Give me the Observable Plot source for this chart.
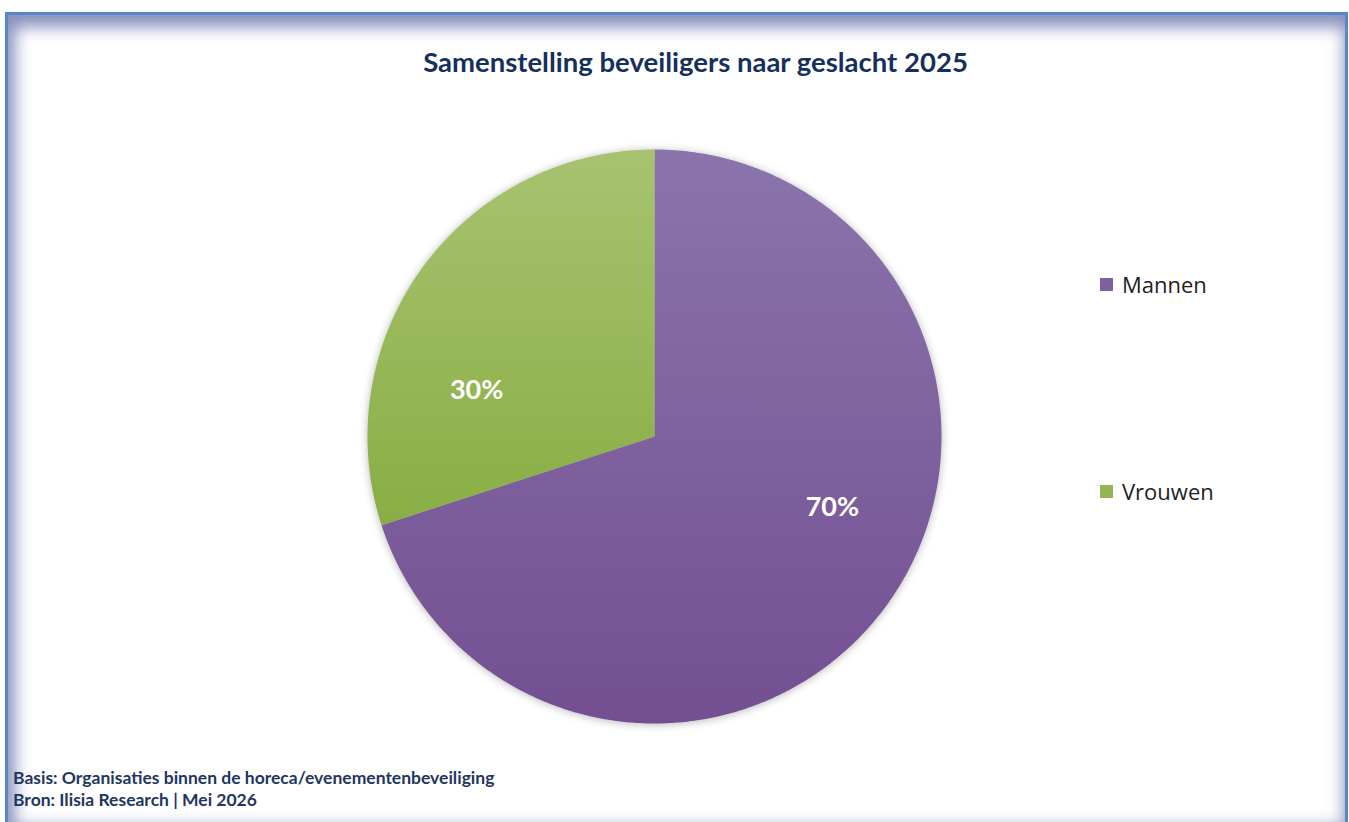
<!DOCTYPE html>
<html>
<head>
<meta charset="utf-8">
<script src="https://cdn.jsdelivr.net/npm/d3@7"></script>
<script src="https://cdn.jsdelivr.net/npm/@observablehq/plot@0.6"></script>
<style>
  html, body { margin: 0; padding: 0; background: #ffffff; width: 1349px; height: 822px; overflow: hidden; }
  #frame {
    position: absolute; left: 5px; top: 12px; width: 1337px; height: 808px;
    border: 3px solid #5a86c4;
    box-shadow: inset 3px 8px 16px 4px rgba(62, 76, 145, 0.62);
    background: #ffffff;
  }
  #title {
    position: absolute; left: 0; top: 42px; width: 1391px; height: 40px; line-height: 40px;
    text-align: center; font-family: Lato, "Open Sans", sans-serif; font-weight: 700;
    font-size: 27.5px; color: #172f5b;
  }
  #chart { position: absolute; left: 0; top: 100px; }
  #legend { position: absolute; left: 1100px; top: 0; font-family: "Open Sans", sans-serif; font-size: 22px; color: #1e1e1e; }
  .item { position: absolute; left: 0; white-space: nowrap; display: flex; align-items: center; height: 30px; }
  .sw { width: 13px; height: 13px; margin-right: 9px; }
  #footer {
    position: absolute; left: 13px; top: 767px; font-family: Lato, "Open Sans", sans-serif; font-weight: 700;
    font-size: 17.5px; line-height: 22px; color: #1f3660;
  }
</style>
</head>
<body>
<div id="frame"></div>
<div id="title">Samenstelling beveiligers naar geslacht 2025</div>
<div id="chart"></div>
<div id="legend"></div>
<div id="footer">Basis: Organisaties binnen de horeca/evenementenbeveiliging<br>Bron: Ilisia Research | Mei 2026</div>
<script>
// ---- data ----
const categories = ["Mannen", "Vrouwen"];
const values = [70, 30];
const swatchColors = ["#7f60a1", "#93b653"];
const gradientTop = ["#8b74ab", "#a7c370"];
const gradientBottom = ["#734f92", "#89ae44"];

const data = categories.map((c, i) => ({ category: c, value: values[i] }));

// pie layout from data (clockwise from 12 o'clock, in data order)
const arcs = d3.pie().sort(null).value(d => d.value).startAngle(0).endAngle(2 * Math.PI)(data);

// slice outlines in unit-radius coordinates (y up)
const outline = [];
arcs.forEach(a => {
  const cat = a.data.category;
  outline.push({ category: cat, x: 0, y: 0 });
  const n = Math.max(2, Math.ceil((a.endAngle - a.startAngle) / (Math.PI / 360)));
  for (let k = 0; k <= n; k++) {
    const t = a.startAngle + (a.endAngle - a.startAngle) * k / n;
    outline.push({ category: cat, x: Math.sin(t), y: Math.cos(t) });
  }
  outline.push({ category: cat, x: 0, y: 0 });
});

// label positions: along each slice's mid-angle, flattened toward the horizontal (best-fit style)
const labels = arcs.map(a => {
  const mid = (a.startAngle + a.endAngle) / 2;
  return {
    category: a.data.category,
    text: Math.round(100 * a.data.value / d3.sum(values)) + "%",
    x: 0.766 * Math.sin(mid),
    y: 0.346 * Math.cos(mid)
  };
});

const W = 1349, H = 660, cx = 654, cy = 336, R = 287;

const plot = Plot.plot({
  width: W,
  height: H,
  margin: 0,
  x: { domain: [-1, 1], range: [cx - R, cx + R], axis: null },
  y: { domain: [-1, 1], range: [cy + R, cy - R], axis: null },
  color: { domain: categories, range: categories.map((c, i) => `url(#grad${i})`) },
  style: { background: "transparent", overflow: "visible" },
  marks: [
    Plot.line(outline, { x: "x", y: "y", z: "category", fill: "category", stroke: "none", curve: "linear" }),
    Plot.text(labels, {
      x: "x", y: "y", dy: 12, text: "text", fill: "#ffffff",
      fontSize: 27, fontWeight: "bold", fontFamily: "Lato, 'Open Sans', sans-serif",
      textAnchor: "middle", lineAnchor: "middle"
    })
  ]
});

// gradient definitions (per-slice vertical gradients)
const svg = d3.select(plot);
const defs = svg.insert("defs", ":first-child");
categories.forEach((c, i) => {
  const g = defs.append("linearGradient").attr("id", `grad${i}`)
    .attr("x1", 0).attr("y1", 0).attr("x2", 0).attr("y2", 1);
  g.append("stop").attr("offset", "0%").attr("stop-color", gradientTop[i]);
  g.append("stop").attr("offset", "100%").attr("stop-color", gradientBottom[i]);
});
svg.select('g[aria-label="line"]').style("filter", "drop-shadow(0px 1px 4px rgba(0,0,0,0.28))");

document.getElementById("chart").appendChild(plot);

// legend
const legend = document.getElementById("legend");
const legendTops = [269, 476];
categories.forEach((c, i) => {
  const item = document.createElement("div");
  item.className = "item";
  item.style.top = legendTops[i] + "px";
  const sw = document.createElement("span");
  sw.className = "sw";
  sw.style.background = swatchColors[i];
  const tx = document.createElement("span");
  tx.textContent = c;
  item.appendChild(sw);
  item.appendChild(tx);
  legend.appendChild(item);
});
</script>
</body>
</html>
